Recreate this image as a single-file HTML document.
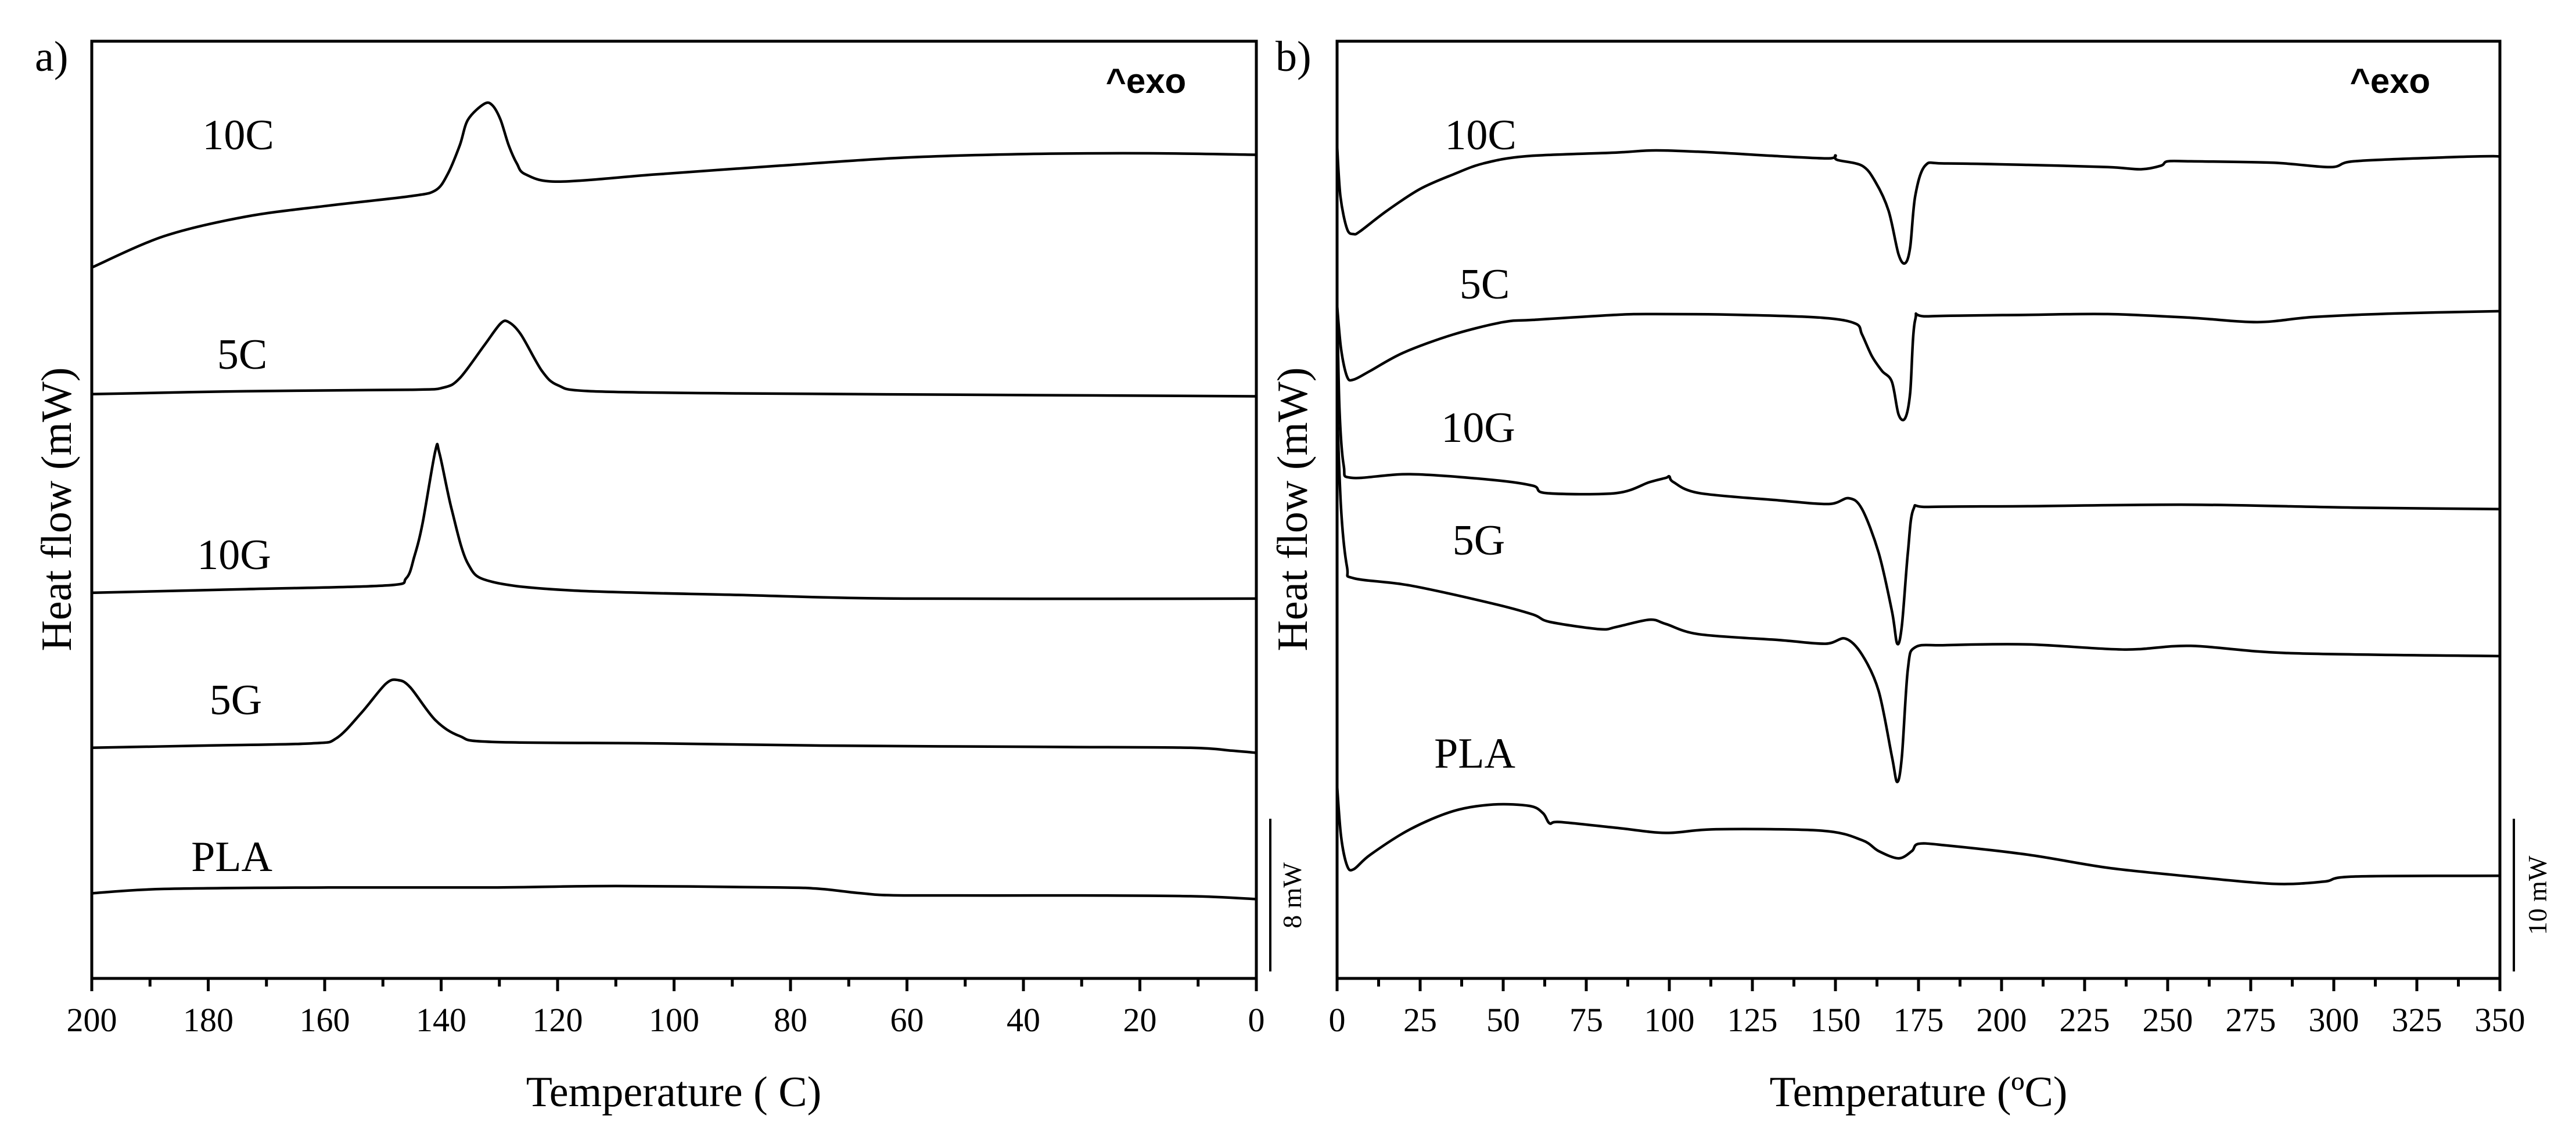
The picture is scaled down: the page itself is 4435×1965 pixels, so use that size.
<!DOCTYPE html>
<html><head><meta charset="utf-8"><style>
html,body{margin:0;padding:0;background:#fff;}
svg{display:block;}
text{font-family:"Liberation Serif",serif;fill:#000;}
.tick{font-size:58px;}
.lab{font-size:74px;}
.exo{font-family:"Liberation Sans",sans-serif;font-weight:bold;font-size:60px;}
</style></head><body>
<svg id="chart" width="4435" height="1965" viewBox="0 0 4435 1965"></svg>
<script>
// ---- Panel a data (cooling, 200 -> 0 C) ----
const aTicks=[200,180,160,140,120,100,80,60,40,20,0];
const a10C_T=[200,187.6,173.5,159.4,145.3,141,138.9,136.8,135.4,132.6,131.2,129.8,128.4,127,125.5,119.9,103,81.8,60.6,39.5,18.3,0];
const a10C_Y=[977,1020,1047,1062,1075,1083,1105,1145,1180,1202,1200,1180,1145,1120,1105,1095,1105,1117,1128,1133,1134,1132];
const a5C_T=[200,173.5,145.3,139.6,136.8,132.6,129.8,128.4,126.3,122.7,119.9,114.3,88.9,46.6,0];
const a5C_Y=[803,807,809,812,825,870,900,902,885,835,815,807,804,802,800];
const a10G_T=[200,173.5,149.5,146,144.6,143.2,141,140.3,138.2,135.4,131.2,117.1,88.9,60.6,0];
const a10G_Y=[530,535,540,550,580,625,725,722,645,570,545,533,527,522,522];
const a5G_T=[200,180.5,162.2,158,153.7,149.5,147.4,145.3,141,136.8,131.2,103,74.8,32.4,11.3,4.2,0];
const a5G_Y=[317,320,323,330,365,405,410,400,355,333,325,323,320,318,317,313,310];
const aPLA_T=[200,187.6,159.4,131.2,110,81.8,74.8,67.8,60.6,32.4,11.3,0];
const aPLA_Y=[117,123,125,125,127,125,123,117,114,114,113,109];
// ---- Panel b data (heating, 0 -> 350 C) ----
const bTicks=[0,25,50,75,100,125,150,175,200,225,250,275,300,325,350];
const b10C_T=[0,1,3,5,7,15,25,35,44,57,84,96,114,133,148,150,150.5,158,162,166,169,171,172.5,174,177,183,208,232,242,248,250,257,282,299,306,331,348,350];
const b10C_Y=[1145,1075,1030,1023,1027,1055,1085,1105,1120,1130,1135,1138,1135,1130,1127,1131,1125,1117,1095,1055,995,983,1005,1075,1117,1120,1118,1115,1112,1117,1123,1123,1121,1115,1123,1128,1130,1128];
const b5C_T=[0,1.2,3,5,10,20,35,50,59,84,96,121,146,156,158,161,164,167,169,171,172.5,174,178,208,232,257,277,294,319,350];
const b5C_Y=[925,865,827,823,835,860,885,902,905,912,913,912,908,900,885,855,835,820,775,770,805,905,910,912,913,908,902,909,914,917];
const b10G_T=[0,0.7,2,4.4,22,47,59,63,84,94,99,100,101.3,109,133,148,154,158,163,167,168.6,170,171.8,173.5,178,208,257,306,350];
const b10G_Y=[935,785,705,688,693,685,677,667,667,682,688,690,682,667,657,652,660,645,585,505,460,485,585,645,648,649,651,647,645];
const b5G_T=[0,1.2,3,5,22,47,59,64,79,84,94,99,109,133,147,153,158,163,167,168.6,170,171.8,174,183,208,237,257,287,350];
const b5G_Y=[785,645,565,550,540,515,500,490,480,483,493,487,473,465,460,467,445,395,305,270,305,425,455,458,459,452,457,447,443];
const bPLA_T=[0,1.2,3,5,10,22,35,47,58,62,64,67,84,99,114,146,158,163,169,173,175,183,208,232,257,282,297,306,350];
const bPLA_Y=[265,195,155,150,170,205,230,239,237,227,213,215,207,200,205,203,190,175,165,175,185,183,170,152,140,130,133,140,141];

const NS="http://www.w3.org/2000/svg";
const svg=document.getElementById('chart');
function mk(tag,attrs,parent){const e=document.createElementNS(NS,tag);for(const k in attrs)e.setAttribute(k,attrs[k]);(parent||svg).appendChild(e);return e;}
const yTop=71,yBot=1685;
function yScale(v){return yBot-(v/1288)*(yBot-yTop);}
function smoothPath(pts){
  let d='M'+pts[0][0].toFixed(1)+','+pts[0][1].toFixed(1);
  for(let i=0;i<pts.length-1;i++){
    const p0=pts[Math.max(0,i-1)],p1=pts[i],p2=pts[i+1],p3=pts[Math.min(pts.length-1,i+2)];
    const t=0.16;
    const c1=[p1[0]+(p2[0]-p0[0])*t,p1[1]+(p2[1]-p0[1])*t];
    const c2=[p2[0]-(p3[0]-p1[0])*t,p2[1]-(p3[1]-p1[1])*t];
    d+='C'+c1[0].toFixed(1)+','+c1[1].toFixed(1)+' '+c2[0].toFixed(1)+','+c2[1].toFixed(1)+' '+p2[0].toFixed(1)+','+p2[1].toFixed(1);
  }
  return d;
}

function panel(id,x0,x1,d0,d1,ticks,minorStep,series){
  const g=mk('g',{});
  
  
  const xs=v=>x0+(v-d0)/(d1-d0)*(x1-x0);
  series.forEach(s=>{
    const pts=s.T.map((t,i)=>[xs(t),yScale(s.Y[i])]);
    const p=mk('path',{d:smoothPath(pts),fill:'none',stroke:'#000','stroke-width':4.5,'stroke-linejoin':'round'},g);
    
    
  });
  const f=mk('rect',{x:x0,y:yTop,width:x1-x0,height:yBot-yTop,fill:'none',stroke:'#000','stroke-width':5},g);
  
  
  const lo=Math.min(d0,d1),hi=Math.max(d0,d1);
  for(let v=lo;v<=hi+1e-6;v+=minorStep){
    const major=ticks.some(t=>Math.abs(t-v)<1e-6);
    const t=mk('line',{x1:xs(v),x2:xs(v),y1:yBot,y2:yBot+(major?22:14),stroke:'#000','stroke-width':5},g);
    
    
  }
  ticks.forEach(v=>{
    const t=mk('text',{x:xs(v),y:1776,'text-anchor':'middle',class:'tick'},g);
    t.textContent=v;
    
    
  });
  return g;
}
panel('panel-a',158,2163,200,0,aTicks,10,[
 {name:'curve-10c-a',T:a10C_T,Y:a10C_Y},{name:'curve-5c-a',T:a5C_T,Y:a5C_Y},
 {name:'curve-10g-a',T:a10G_T,Y:a10G_Y},{name:'curve-5g-a',T:a5G_T,Y:a5G_Y},
 {name:'curve-pla-a',T:aPLA_T,Y:aPLA_Y}]);
panel('panel-b',2302,4304,0,350,bTicks,12.5,[
 {name:'curve-10c-b',T:b10C_T,Y:b10C_Y},{name:'curve-5c-b',T:b5C_T,Y:b5C_Y},
 {name:'curve-10g-b',T:b10G_T,Y:b10G_Y},{name:'curve-5g-b',T:b5G_T,Y:b5G_Y},
 {name:'curve-pla-b',T:bPLA_T,Y:bPLA_Y}]);
</script>
<script>
(function(){
const NS="http://www.w3.org/2000/svg";const svg=document.getElementById('chart');
function txt(x,y,s,cls,name,extra){const t=document.createElementNS(NS,'text');t.setAttribute('x',x);t.setAttribute('y',y);t.setAttribute('class',cls);if(extra)for(const k in extra)t.setAttribute(k,extra[k]);t.textContent=s;


svg.appendChild(t);}
txt(60,122,'a)','lab','panel-a-label');
txt(2196,122,'b)','lab','panel-b-label');
txt(1973,160,'^exo','exo','exo-label-a',{'text-anchor':'middle'});
txt(4115,160,'^exo','exo','exo-label-b',{'text-anchor':'middle'});
txt(1160,1905,'Temperature ( C)','lab','x-axis-title-a',{'text-anchor':'middle'});
txt(3303,1905,'Temperature (ºC)','lab','x-axis-title-b',{'text-anchor':'middle'});
txt(0,0,'Heat flow (mW)','lab','y-axis-title-a',{'text-anchor':'middle',transform:'translate(122,877) rotate(-90)'});
txt(0,0,'Heat flow (mW)','lab','y-axis-title-b',{'text-anchor':'middle',transform:'translate(2250,877) rotate(-90)'});
const L=[['10C',410,232],['5C',417,610],['10G',403,955],['5G',406,1205],['PLA',399,1475],
['10C',2549,232],['5C',2556,489],['10G',2545,736],['5G',2546,930],['PLA',2539,1297]];
L.forEach((l,i)=>txt(l[1],l[2]+25,l[0],'lab','series-label-'+l[0].toLowerCase(),{'text-anchor':'middle'}));
function bar(x,name){const e=document.createElementNS(NS,'line');e.setAttribute('x1',x);e.setAttribute('x2',x);e.setAttribute('y1',1410);e.setAttribute('y2',1673);e.setAttribute('stroke','#000');e.setAttribute('stroke-width',4);


svg.appendChild(e);}
bar(2187,'scale-bar-a');bar(4328,'scale-bar-b');
txt(0,0,'8 mW','tick','scale-label-a',{'text-anchor':'middle',transform:'translate(2240,1542) rotate(-90)',style:'font-size:46px'});
txt(0,0,'10 mW','tick','scale-label-b',{'text-anchor':'middle',transform:'translate(4384,1542) rotate(-90)',style:'font-size:46px'});
})();
</script>
</body></html>
